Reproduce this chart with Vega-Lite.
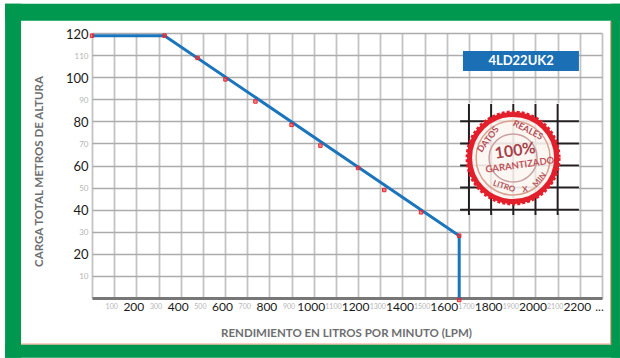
{"$schema":"https://vega.github.io/schema/vega-lite/v6.json","width":510,"height":265,"autosize":"none","padding":{"left":92,"top":33,"right":18,"bottom":60},"background":"#ffffff","config":{"view":{"stroke":null},"font":"Lato"},"encoding":{"x":{"field":"x","type":"quantitative","scale":{"domain":[0,2300],"nice":false,"zero":false},"axis":{"title":"RENDIMIENTO EN LITROS POR MINUTO (LPM)","titleFont":"Lato","titleFontSize":11.5,"titleFontWeight":"bold","titleColor":"#6d6e70","titleX":254,"titleY":35,"titleBaseline":"middle","values":[0,100,200,300,400,500,600,700,800,900,1000,1100,1200,1300,1400,1500,1600,1700,1800,1900,2000,2100,2200,2300],"labelExpr":"datum.value==0?'':datum.value==2300?'...':datum.label","format":"d","labelFont":"Lato","labelOverlap":false,"labelFlush":false,"labelOffset":-3,"labelPadding":8,"labelBaseline":"middle","labelFontSize":{"condition":{"test":"datum.value % 200 === 0 || datum.value === 2300","value":12},"value":7},"labelColor":{"condition":{"test":"datum.value % 200 === 0 || datum.value === 2300","value":"#1a1a1a"},"value":"#b5b5b5"},"ticks":false,"domain":true,"domainColor":"#777777","domainWidth":3,"grid":true,"gridColor":"#c4c4c4","gridWidth":1.8}},"y":{"field":"y","type":"quantitative","scale":{"domain":[0,120],"nice":false,"zero":false},"axis":{"title":"CARGA TOTAL METROS DE ALTURA","titleFont":"Lato","titleFontSize":11.5,"titleFontWeight":"bold","titleColor":"#6d6e70","titleX":-53,"titleY":138,"titleBaseline":"middle","values":[0,10,20,30,40,50,60,70,80,90,100,110,120],"labelExpr":"datum.value==0?'':datum.label","labelFont":"Lato","labelOverlap":false,"labelFlush":false,"labelPadding":4,"labelOffset":1,"labelFontSize":{"condition":{"test":"datum.value % 20 === 0","value":13},"value":8},"labelColor":{"condition":{"test":"datum.value % 20 === 0","value":"#1a1a1a"},"value":"#b5b5b5"},"ticks":false,"domain":false,"grid":true,"gridColor":"#acacac","gridWidth":1.5}}},"layer":[{"data":{"values":[{"x":-392,"x2":2381,"y":133.2,"y2":125.5},{"x":-392,"x2":-320,"y":133.2,"y2":-27},{"x":2341,"x2":2381,"y":133.2,"y2":-27},{"x":-392,"x2":2381,"y":-21.1,"y2":-27}]},"mark":{"type":"rect","color":"#00984f"},"encoding":{"x2":{"field":"x2"},"y2":{"field":"y2"}}},{"data":{"values":[{"x":2336,"x2":2341,"y":125.5,"y2":-21.1},{"x":-320,"x2":2341,"y":-20.6,"y2":-21.1}]},"mark":{"type":"rect","color":"#f4a08a"},"encoding":{"x2":{"field":"x2"},"y2":{"field":"y2"}}},{"data":{"values":[{"x":1696,"x2":2196,"y":88.3,"y2":38.5}]},"mark":{"type":"rect","color":"#ffffff"},"encoding":{"x2":{"field":"x2"},"y2":{"field":"y2"}}},{"data":{"values":[{"x":1700,"y":87.9,"y2":37.6},{"x":1800,"y":87.9,"y2":37.6},{"x":1900,"y":87.9,"y2":37.6},{"x":2000,"y":87.9,"y2":37.6},{"x":2100,"y":87.9,"y2":37.6}]},"mark":{"type":"rule","color":"#231f20","strokeWidth":2},"encoding":{"y2":{"field":"y2"}}},{"data":{"values":[{"x":1660,"x2":2196,"y":80},{"x":1660,"x2":2196,"y":70},{"x":1660,"x2":2196,"y":60},{"x":1660,"x2":2196,"y":50},{"x":1660,"x2":2196,"y":40}]},"mark":{"type":"rule","color":"#231f20","strokeWidth":2},"encoding":{"x2":{"field":"x2"}}},{"data":{"values":[{"x":0,"y":118.8},{"x":327,"y":118.8},{"x":1656,"y":28.2},{"x":1656,"y":-0.9}]},"mark":{"type":"line","color":"#1b75bc","strokeWidth":3,"strokeCap":"butt"},"encoding":{"order":{"field":"o"}}},{"data":{"values":[{"x":0,"y":118.8},{"x":327,"y":118.8},{"x":476,"y":108.7},{"x":602,"y":99},{"x":737,"y":89},{"x":900,"y":78.4},{"x":1030,"y":69},{"x":1200,"y":58.9},{"x":1318,"y":48.9},{"x":1484,"y":38.8},{"x":1656,"y":28.2},{"x":1656,"y":-0.9}]},"mark":{"type":"point","shape":"square","size":12,"filled":true,"color":"#ec3a3f","fillOpacity":0.6,"stroke":"#e8242c","strokeWidth":1}},{"data":{"values":[{"x":1673,"x2":2196,"y":111.9,"y2":102.8}]},"mark":{"type":"rect","color":"#1b6fb5"},"encoding":{"x2":{"field":"x2"},"y2":{"field":"y2"}}},{"data":{"values":[{"x":1935,"y":107.3,"label":"4LD22UK2"}]},"mark":{"type":"text","color":"#ffffff","fontSize":13,"fontWeight":"bold","align":"center","baseline":"middle"},"encoding":{"text":{"field":"label"}}},{"data":{"values":[{"x":1899,"y":63.4}]},"mark":{"type":"point","shape":"circle","size":8464,"filled":false,"fill":null,"stroke":"#e21f2b","strokeWidth":3,"strokeDash":[3,2],"opacity":1}},{"data":{"values":[{"x":1899,"y":63.4}]},"mark":{"type":"point","shape":"circle","size":7569,"filled":true,"fill":"#fdf6f2","fillOpacity":0.9,"stroke":"#e21f2b","strokeWidth":5,"opacity":1}},{"data":{"values":[{"x":1899,"y":63.4}]},"mark":{"type":"point","shape":"circle","size":5476,"filled":false,"stroke":"#d9a08f","strokeWidth":1.5,"opacity":1}},{"data":{"values":[{"x":1899,"y":63.4}]},"mark":{"type":"point","shape":"circle","size":2304,"filled":false,"stroke":"#c9a0a0","strokeWidth":1.5,"opacity":1}},{"data":{"values":[{"x":1786,"y":71.8,"label":"DATOS"}]},"mark":{"type":"text","color":"#b5525a","fontSize":9,"fontWeight":"bold","angle":-53,"align":"center","baseline":"middle"},"encoding":{"text":{"field":"label"}}},{"data":{"values":[{"x":1966,"y":76.1,"label":"REALES"}]},"mark":{"type":"text","color":"#b5525a","fontSize":9,"fontWeight":"bold","angle":27,"align":"center","baseline":"middle"},"encoding":{"text":{"field":"label"}}},{"data":{"values":[{"x":1908,"y":66.6,"label":"100%"}]},"mark":{"type":"text","color":"#a5424a","fontSize":16,"fontWeight":"bold","angle":-8,"align":"center","baseline":"middle"},"encoding":{"text":{"field":"label"}}},{"data":{"values":[{"x":1930,"y":60.2,"label":"GARANTIZADO"}]},"mark":{"type":"text","color":"#c0545c","fontSize":9.5,"fontWeight":"bold","angle":-8,"align":"center","baseline":"middle"},"encoding":{"text":{"field":"label"}}},{"data":{"values":[{"x":1858,"y":50.3,"label":"LITRO"}]},"mark":{"type":"text","color":"#b5525a","fontSize":8,"fontWeight":"bold","angle":18,"align":"center","baseline":"middle"},"encoding":{"text":{"field":"label"}}},{"data":{"values":[{"x":1953,"y":48.9,"label":"X"}]},"mark":{"type":"text","color":"#b5525a","fontSize":8,"fontWeight":"bold","angle":-8,"align":"center","baseline":"middle"},"encoding":{"text":{"field":"label"}}},{"data":{"values":[{"x":2020,"y":53.4,"label":"MIN"}]},"mark":{"type":"text","color":"#b5525a","fontSize":8,"fontWeight":"bold","angle":-50,"align":"center","baseline":"middle"},"encoding":{"text":{"field":"label"}}}]}
